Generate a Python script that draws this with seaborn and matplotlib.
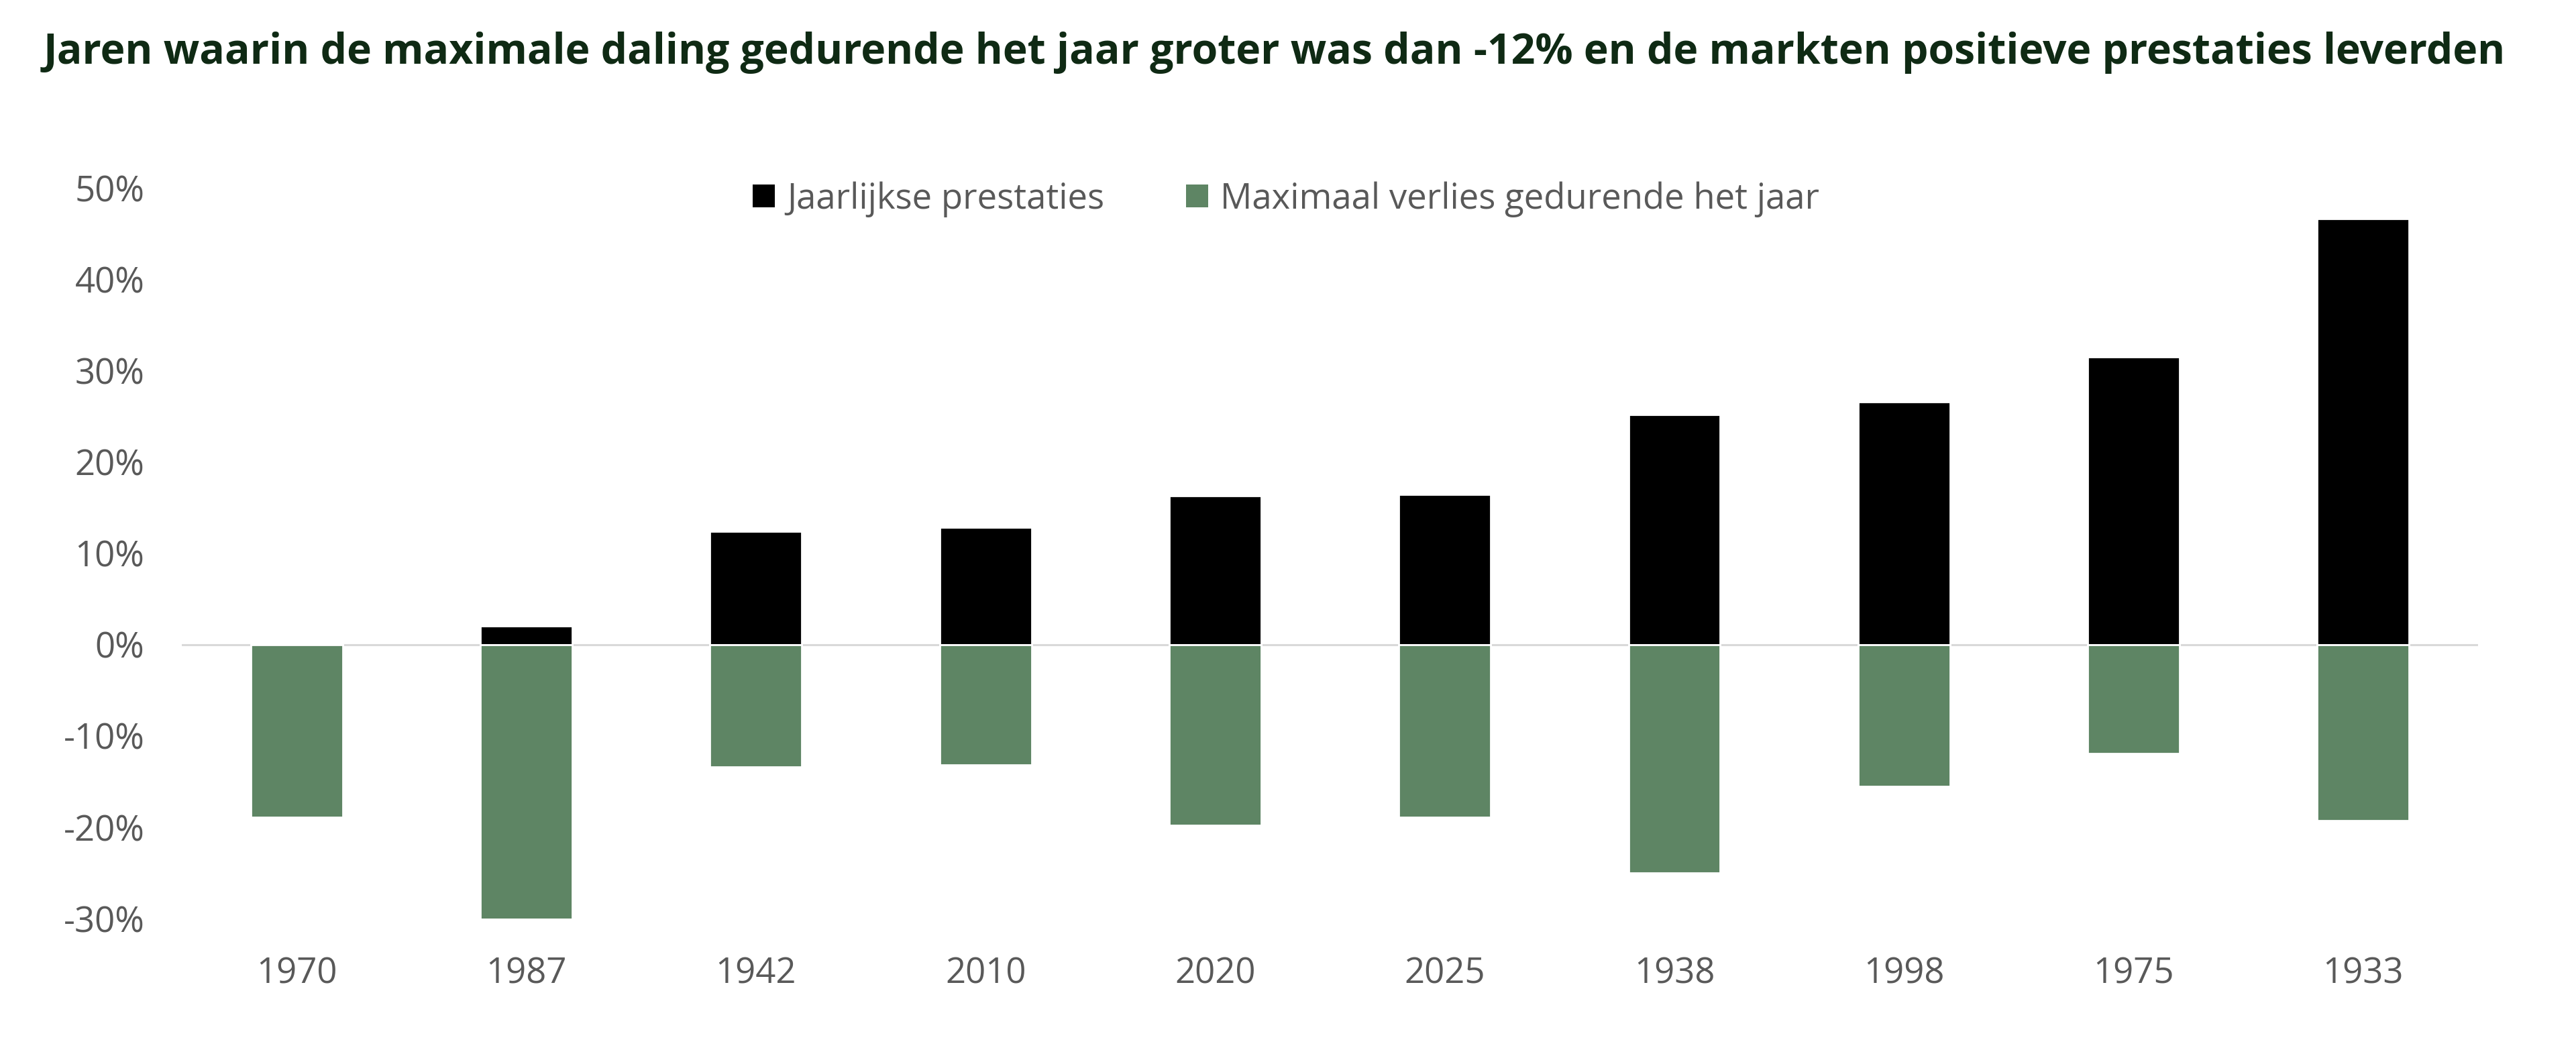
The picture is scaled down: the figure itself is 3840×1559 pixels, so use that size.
import numpy as np
import pandas as pd
import matplotlib
matplotlib.use("Agg")
import matplotlib.pyplot as plt
from matplotlib.ticker import FuncFormatter, MultipleLocator
from matplotlib.patches import Patch
import seaborn as sns

# values
years = ["1970", "1987", "1942", "2010", "2020", "2025", "1938", "1998", "1975", "1933"]
annualReturn = [0.1, 2.0, 12.4, 12.8, 16.3, 16.4, 25.2, 26.6, 31.5, 46.6]
maxDrawdown = [-18.9, -30.1, -13.4, -13.2, -19.8, -18.9, -25.0, -15.5, -11.9, -19.3]

labelAnnual = "Jaarlijkse prestaties"
labelDrawdown = "Maximaal verlies gedurende het jaar"
titleText = "Jaren waarin de maximale daling gedurende het jaar groter was dan -12% en de markten positieve prestaties leverden"

colorAnnual = "#000000"
colorDrawdown = "#5e8564"
textGrey = "#595959"

sns.set_theme(style="white")
plt.rcParams['font.family'] = ['Open Sans', 'DejaVu Sans']

df = pd.DataFrame({'Jaar': years,
                   'Annual': np.array(annualReturn) / 100.0,
                   'Drawdown': np.array(maxDrawdown) / 100.0})

fig = plt.figure(figsize=(19.2, 7.795), dpi=200)
ax = fig.add_axes([0.0706, 0.1219, 0.8914, 0.6985])

sns.barplot(data=df, x='Jaar', y='Annual', color=colorAnnual, width=0.4,
            saturation=1, ax=ax, order=years)
sns.barplot(data=df, x='Jaar', y='Drawdown', color=colorDrawdown, width=0.4,
            saturation=1, ax=ax, order=years)

ax.axhline(0, color="#d9d9d9", lw=1.1, zorder=0.5)

ax.set_xlim(-0.5, len(years) - 0.5)
ax.set_ylim(-0.30, 0.50)
ax.yaxis.set_major_locator(MultipleLocator(0.10))
ax.yaxis.set_major_formatter(FuncFormatter(lambda v, p: "{:.0f}%".format(v * 100)))

ax.set_xlabel("")
ax.set_ylabel("")
sns.despine(ax=ax, left=True, bottom=True)
ax.tick_params(axis='y', length=0, pad=20, labelsize=19, labelcolor=textGrey)
ax.tick_params(axis='x', length=0, pad=20, labelsize=19, labelcolor=textGrey)

handles = [Patch(facecolor=colorAnnual, edgecolor='none'),
           Patch(facecolor=colorDrawdown, edgecolor='none')]
fig.legend(handles, [labelAnnual, labelDrawdown], loc='center',
           bbox_to_anchor=(0.4993, 0.8095), ncol=2, frameon=False,
           fontsize=19, labelcolor=textGrey, handlelength=0.62,
           handleheight=0.62, handletextpad=0.35, columnspacing=2.3)

fig.text(65 / 3840, 1 - 78 / 1559, titleText, ha='left', va='center',
         fontsize=22.5, fontweight='bold', color="#0f2a14")

fig.savefig("out.png", dpi=200, facecolor='white')
